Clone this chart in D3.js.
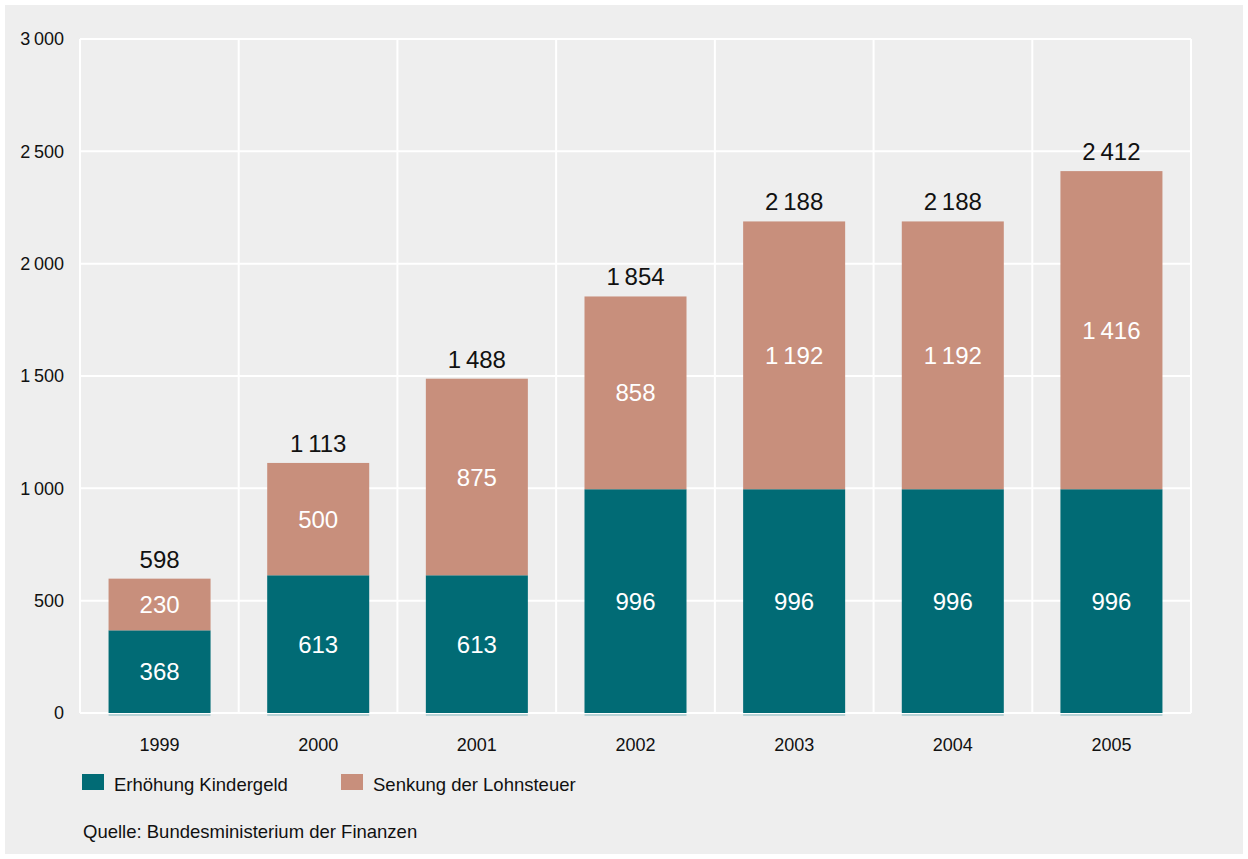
<!DOCTYPE html>
<html>
<head>
<meta charset="utf-8">
<script src="https://cdn.jsdelivr.net/npm/d3@7"></script>
<style>
  html, body { margin: 0; padding: 0; background: #ffffff; }
  svg { display: block; font-family: "Liberation Sans", Arial, sans-serif; }
</style>
</head>
<body>
<svg id="chart" width="1248" height="859"></svg>
<script>
// Entlastung der Familien, in Mio. Euro
const years = ["1999", "2000", "2001", "2002", "2003", "2004", "2005"];
const kindergeld = [368, 613, 613, 996, 996, 996, 996];
const lohnsteuer = [230, 500, 875, 858, 1192, 1192, 1416];
const totals = [598, 1113, 1488, 1854, 2188, 2188, 2412];
const yTicks = [0, 500, 1000, 1500, 2000, 2500, 3000];
const seriesNames = ["Erhöhung Kindergeld", "Senkung der Lohnsteuer"];
const seriesColors = ["#016b75", "#c88f7c"];
const sourceText = "Quelle: Bundesministerium der Finanzen";

const FONT = "'Liberation Sans', Arial, sans-serif";
const svg = d3.select("#chart");
const W = 1248, H = 859;
const m = { left: 80, right: 57, top: 39, bottom: 146 };
const plotW = W - m.left - m.right;
const plotH = H - m.top - m.bottom;

// panel background
svg.append("rect").attr("x", 5).attr("y", 5).attr("width", W - 10).attr("height", H - 10)
  .attr("fill", "#eeeeee");

const g = svg.append("g").attr("transform", `translate(${m.left},${m.top})`);

const x = d3.scaleBand().domain(years).range([0, plotW]).paddingInner(0.357).paddingOuter(0.18);
const y = d3.scaleLinear().domain([0, 3000]).range([plotH, 0]);

const fmt = v => {
  const s = String(v);
  return s.length > 3 ? s.slice(0, -3) + "\u2009" + s.slice(-3) : s;
};

// horizontal grid
g.selectAll("line.hgrid").data(yTicks).join("line")
  .attr("x1", 0).attr("x2", plotW)
  .attr("y1", d => y(d)).attr("y2", d => y(d))
  .attr("stroke", "#ffffff").attr("stroke-width", 2);

// vertical grid on band boundaries
const vb = d3.range(years.length + 1).map(i => i * plotW / years.length);
g.selectAll("line.vgrid").data(vb).join("line")
  .attr("x1", d => d).attr("x2", d => d)
  .attr("y1", 0).attr("y2", plotH)
  .attr("stroke", "#ffffff").attr("stroke-width", 2);

// y axis labels
const yAxis = d3.axisLeft(y).tickValues(yTicks).tickFormat(fmt).tickSize(0).tickPadding(16);
const ya = g.append("g").call(yAxis).attr("font-family", FONT).attr("font-size", 18);
ya.select(".domain").remove();
ya.selectAll("text").attr("fill", "#111");

// x axis labels
const xAxis = d3.axisBottom(x).tickSize(0).tickPadding(25);
const xa = g.append("g").attr("transform", `translate(0,${plotH})`).call(xAxis)
  .attr("font-family", FONT).attr("font-size", 18);
xa.select(".domain").remove();
xa.selectAll("text").attr("fill", "#111");

// stacked bars
const rows = years.map((yr, i) => ({ year: yr, a: kindergeld[i], b: lohnsteuer[i], total: totals[i] }));

g.selectAll("rect.base").data(rows).join("rect")
  .attr("x", d => x(d.year)).attr("width", x.bandwidth())
  .attr("y", plotH + 1).attr("height", 2).attr("fill", "#b9d3d6");

g.selectAll("rect.k").data(rows).join("rect")
  .attr("x", d => x(d.year)).attr("width", x.bandwidth())
  .attr("y", d => y(d.a)).attr("height", d => y(0) - y(d.a))
  .attr("fill", seriesColors[0]);

g.selectAll("rect.l").data(rows).join("rect")
  .attr("x", d => x(d.year)).attr("width", x.bandwidth())
  .attr("y", d => y(d.a + d.b)).attr("height", d => y(d.a) - y(d.a + d.b))
  .attr("fill", seriesColors[1]);

// segment labels
g.selectAll("text.kl").data(rows).join("text")
  .attr("x", d => x(d.year) + x.bandwidth() / 2)
  .attr("y", d => (y(0) + y(d.a)) / 2)
  .attr("dy", "0.36em").attr("text-anchor", "middle")
  .attr("font-size", 24).attr("fill", "#ffffff")
  .text(d => fmt(d.a));

g.selectAll("text.ll").data(rows).join("text")
  .attr("x", d => x(d.year) + x.bandwidth() / 2)
  .attr("y", d => (y(d.a) + y(d.a + d.b)) / 2)
  .attr("dy", "0.36em").attr("text-anchor", "middle")
  .attr("font-size", 24).attr("fill", "#ffffff")
  .text(d => fmt(d.b));

// totals above bars
g.selectAll("text.tl").data(rows).join("text")
  .attr("x", d => x(d.year) + x.bandwidth() / 2)
  .attr("y", d => y(d.total) - 11)
  .attr("text-anchor", "middle")
  .attr("font-size", 24).attr("fill", "#111")
  .text(d => fmt(d.total));

// legend
const legend = svg.append("g").attr("transform", "translate(82,774)");
const lx = [0, 259];
seriesNames.forEach((name, i) => {
  const item = legend.append("g").attr("transform", `translate(${lx[i]},0)`);
  item.append("rect").attr("width", 22).attr("height", 16).attr("fill", seriesColors[i]);
  item.append("text").attr("x", 32).attr("y", 17).attr("font-size", 18.5).attr("fill", "#111").text(name);
});

// source
svg.append("text").attr("x", 83).attr("y", 838).attr("font-size", 18.5).attr("fill", "#111").text(sourceText);
</script>
</body>
</html>
